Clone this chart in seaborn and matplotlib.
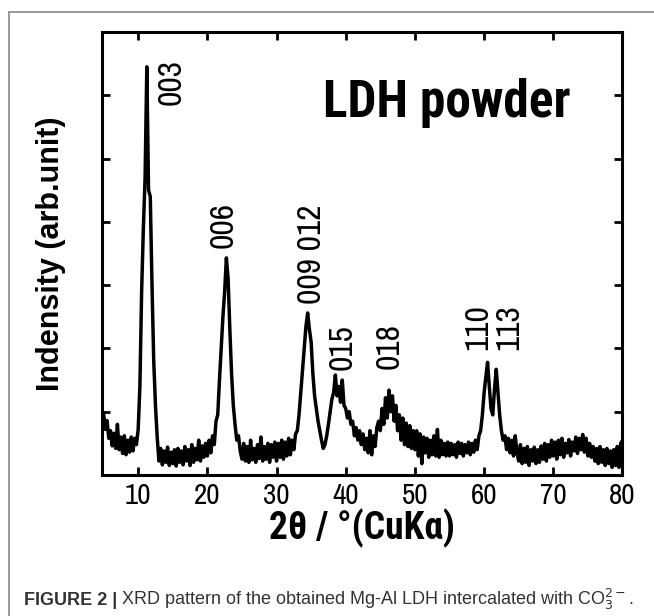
"""
XRD pattern of Mg-Al LDH (CO3 intercalated) - redraw with seaborn
"""

import numpy as np
import matplotlib
matplotlib.use("Agg")
import matplotlib.pyplot as plt
from matplotlib.lines import Line2D
import seaborn as sns

# 2theta grid: 5.00 .. 80.00 deg, step 0.25 deg
TT_START = 5.0
TT_STEP = 0.25

# intensity (arb. unit), one row = 5 deg
row_05 = [0.98, 0.72, 0.86, 0.58, 0.70, 0.46, 0.66, 0.42, 0.80, 0.40,
          0.60, 0.34, 0.62, 0.32, 0.55, 0.36, 0.60, 0.38, 0.58, 0.48]
row_10 = [0.72, 1.40, 2.90, 3.90, 4.70, 6.45, 4.50, 4.40, 3.00, 1.80,
          1.10, 0.60, 0.22, 0.42, 0.16, 0.38, 0.20, 0.44, 0.15, 0.36]
row_15 = [0.18, 0.40, 0.14, 0.42, 0.20, 0.38, 0.16, 0.45, 0.22, 0.40,
          0.15, 0.48, 0.20, 0.42, 0.24, 0.55, 0.22, 0.46, 0.28, 0.50]
row_20 = [0.30, 0.55, 0.35, 0.62, 0.48, 0.85, 0.95, 1.50, 2.00, 2.50,
          2.90, 3.43, 3.10, 2.30, 1.60, 1.10, 0.80, 0.55, 0.62, 0.38]
row_25 = [0.25, 0.50, 0.22, 0.45, 0.20, 0.55, 0.24, 0.42, 0.20, 0.48,
          0.26, 0.60, 0.22, 0.45, 0.25, 0.50, 0.20, 0.48, 0.28, 0.52]
row_30 = [0.22, 0.50, 0.28, 0.55, 0.25, 0.52, 0.30, 0.58, 0.32, 0.55,
          0.40, 0.65, 0.70, 0.95, 1.30, 1.65, 2.00, 2.35, 2.56, 2.30]
row_35 = [2.10, 1.60, 1.25, 1.05, 0.85, 0.70, 0.55, 0.42, 0.48, 0.62,
          0.80, 1.00, 1.20, 1.30, 1.58, 1.25, 1.40, 1.15, 1.50, 1.10]
row_40 = [1.05, 0.90, 1.00, 0.80, 0.85, 0.62, 0.75, 0.55, 0.70, 0.48,
          0.65, 0.40, 0.58, 0.35, 0.70, 0.32, 0.62, 0.45, 0.75, 0.85]
row_45 = [0.70, 1.05, 0.80, 1.22, 0.90, 1.34, 1.00, 1.25, 0.85, 1.10,
          0.70, 0.95, 0.55, 0.90, 0.48, 0.82, 0.45, 0.78, 0.42, 0.70]
row_50 = [0.40, 0.70, 0.30, 0.65, 0.18, 0.60, 0.35, 0.58, 0.28, 0.55,
          0.32, 0.62, 0.30, 0.72, 0.28, 0.55, 0.32, 0.50, 0.30, 0.52]
row_55 = [0.30, 0.50, 0.32, 0.48, 0.28, 0.52, 0.34, 0.50, 0.30, 0.48,
          0.35, 0.52, 0.32, 0.50, 0.36, 0.55, 0.40, 0.62, 0.70, 0.95]
row_60 = [1.30, 1.55, 1.78, 1.40, 1.05, 0.95, 1.35, 1.67, 1.30, 0.95,
          0.70, 0.55, 0.62, 0.40, 0.58, 0.35, 0.55, 0.30, 0.62, 0.35]
row_65 = [0.22, 0.48, 0.18, 0.42, 0.20, 0.45, 0.15, 0.40, 0.22, 0.44,
          0.18, 0.40, 0.20, 0.46, 0.25, 0.50, 0.22, 0.48, 0.28, 0.55]
row_70 = [0.30, 0.52, 0.25, 0.55, 0.32, 0.58, 0.28, 0.50, 0.35, 0.56,
          0.30, 0.52, 0.38, 0.60, 0.34, 0.58, 0.40, 0.64, 0.36, 0.58]
row_75 = [0.30, 0.50, 0.28, 0.45, 0.22, 0.42, 0.18, 0.45, 0.20, 0.40,
          0.15, 0.42, 0.18, 0.38, 0.12, 0.40, 0.15, 0.45, 0.12, 0.50, 0.55]

# reflections (hkl) : label, 2theta position, height of label start
peak_labels = ["003", "006", "009 012", "015", "018", "110", "113"]
peak_label_x = [14.9, 22.4, 35.1, 39.6, 46.4, 59.1, 63.7]
peak_label_y = [5.85, 3.58, 2.70, 1.66, 1.68, 1.97, 1.97]

x_ticks = [10, 20, 30, 40, 50, 60, 70, 80]

NARROW = ['Archivo Narrow', 'Roboto Condensed', 'DejaVu Sans Condensed',
          'DejaVu Sans']
NARROW_BOLD = ['Roboto Condensed', 'Asap Condensed', 'DejaVu Sans Condensed',
               'DejaVu Sans']


def main():
    intensity = np.array(row_05 + row_10 + row_15 + row_20 + row_25 + row_30
                         + row_35 + row_40 + row_45 + row_50 + row_55
                         + row_60 + row_65 + row_70 + row_75)
    two_theta = TT_START + TT_STEP * np.arange(len(intensity))

    sns.set_theme(style="ticks")
    plt.rcParams['font.family'] = ['Liberation Sans', 'DejaVu Sans']
    plt.rcParams['text.color'] = 'black'
    plt.rcParams['axes.labelcolor'] = 'black'
    plt.rcParams['xtick.color'] = 'black'
    plt.rcParams['ytick.color'] = 'black'

    fig = plt.figure(figsize=(6.54, 6.16), dpi=100)
    ax = fig.add_axes([0.1552, 0.2289, 0.7966, 0.7192])

    sns.lineplot(x=two_theta, y=intensity, ax=ax, color="black",
                 linewidth=2.5, estimator=None)

    ax.set_xlim(4.7, 80)
    ax.set_ylim(0, 7)
    ax.set_xticks(x_ticks)
    ax.set_yticks([1, 2, 3, 4, 5, 6])
    ax.set_yticklabels([])
    ax.tick_params(axis="both", direction="in", length=6, width=2,
                   top=True, right=True, color="black")
    ax.tick_params(axis="x", pad=5, labelsize=21)
    for lab in ax.get_xticklabels():
        lab.set_family(NARROW)
    for sp in ax.spines.values():
        sp.set_visible(True)
        sp.set_linewidth(2.2)
        sp.set_color("black")

    ax.set_xlabel("2θ / °(CuKα)", fontsize=27, fontweight="bold",
                  family=NARROW_BOLD, labelpad=0)
    ax.set_ylabel("Indensity (arb.unit)", fontsize=22, fontweight="bold",
                  labelpad=22)

    # peak indices
    for lab, px, py in zip(peak_labels, peak_label_x, peak_label_y):
        ax.text(px, py, lab, rotation=90, ha="center", va="bottom",
                fontsize=24, family=NARROW)

    ax.text(36.7, 5.66, "LDH powder", fontsize=37, fontweight="bold",
            family=NARROW_BOLD, ha="left", va="baseline")

    # frame around the figure panel (top and left edges)
    fig.add_artist(Line2D([9 / 654, 1.0], [1 - 12 / 616, 1 - 12 / 616],
                          transform=fig.transFigure, color="#8a8a8a", lw=1.2))
    fig.add_artist(Line2D([9 / 654, 9 / 654], [0.0, 1 - 12 / 616],
                          transform=fig.transFigure, color="#8a8a8a", lw=1.2))

    # caption
    t1 = fig.text(24 / 654, 0.018, "FIGURE 2 |", fontsize=13,
                  fontweight="bold", color="#333333")
    renderer = fig.canvas.get_renderer()
    bb = t1.get_window_extent(renderer)
    fig.text(bb.x1 / fig.bbox.width + 0.006, 0.018,
             "XRD pattern of the obtained Mg-Al LDH intercalated with "
             "CO$_3^{2-}$.", fontsize=13, color="#333333")

    fig.savefig("out.png", dpi=100)


if __name__ == "__main__":
    main()
